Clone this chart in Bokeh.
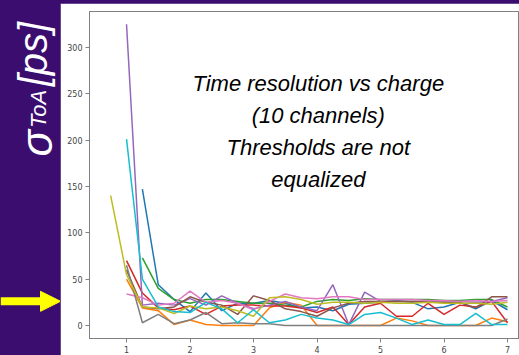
import numpy as np
from math import pi
from bokeh.plotting import figure
from bokeh.layouts import row
from bokeh.models import Range1d, FixedTicker, Label, Arrow, NormalHead
from bokeh.embed import file_html
from bokeh.resources import INLINE

# ---------------- data ----------------
charge = [0.75, 1.0, 1.25, 1.5, 1.75, 2.0, 2.25, 2.5, 2.75, 3.0, 3.25, 3.5, 3.75,
          4.0, 4.25, 4.5, 4.75, 5.0, 5.25, 5.5, 5.75, 6.0, 6.25, 6.5, 6.75, 7.0]

ch0 = [None, None, 147, 44, 28, 15, 35, 16, 24, 24, 27, 24, 19, 20, 16, 23, 24, 25, 27, 25, 18, 20, 25, 18, 27, 17]
ch1 = [None, 50, 19, 16, 1, 6, 1, 0, 0, 0, 19, 25, 22, 0, 0, 0, 0, 0, 8, 5, 0, 0, 0, 0, 8, 4]
ch2 = [None, None, 73, 40, 28, 24, 28, 28, 26, 24, 24, 22, 20, 26, 28, 27, 29, 28, 28, 28, 28, 27, 27, 28, 28, 20]
ch3 = [None, 70, 35, 19, 17, 21, 12, 21, 22, 22, 21, 21, 19, 14, 20, 1, 20, 24, 10, 10, 24, 12, 22, 20, 26, 3]
ch4 = [None, 325, 22, 24, 22, 29, 22, 32, 24, 18, 22, 26, 20, 16, 44, 1, 36, 26, 26, 26, 26, 25, 26, 25, 26, 30]
ch5 = [None, 60, 20, 18, 20, 31, 25, 22, 12, 32, 27, 18, 15, 10, 19, 24, 26, 26, 26, 26, 25, 25, 25, 19, 31, 31]
ch6 = [None, 34, 30, 22, 24, 37, 25, 27, 24, 17, 26, 34, 30, 29, 31, 31, 28, 28, 28, 28, 27, 27, 26, 27, 26, 27]
ch7 = [None, 65, 3, 12, 2, 6, 14, 2, 3, 2, 2, 0, 0, 0, 0, 0, 0, 0, 0, 0, 0, 0, 0, 0, 0, 7]
ch8 = [140, 55, 20, 19, 13, 21, 18, 20, 16, 10, 30, 31, 28, 23, 25, 25, 24, 25, 24, 24, 25, 24, 24, 24, 23, 25]
ch9 = [None, 201, 50, 20, 15, 14, 25, 18, 3, 17, 3, 6, 12, 8, 6, 1, 12, 14, 8, 1, 6, 1, 1, 13, 1, 1]

channels = [ch0, ch1, ch2, ch3, ch4, ch5, ch6, ch7, ch8, ch9]
colors = ["#1f77b4", "#ff7f0e", "#2ca02c", "#d62728", "#9467bd",
          "#8c564b", "#e377c2", "#7f7f7f", "#bcbd22", "#17becf"]

x_ticks = [1, 2, 3, 4, 5, 6, 7]
y_ticks = [0, 50, 100, 150, 200, 250, 300]

title_lines = ["Time resolution vs charge", "(10 channels)", "Thresholds are not", "equalized"]
title_y = [261, 227, 192, 157]

PURPLE = "#3a0d6e"
YELLOW = "#ffff00"
FONT = "Liberation Sans"

# ---------------- left purple strip ----------------
left = figure(width=60, height=355, x_range=Range1d(0, 60), y_range=Range1d(0, 355),
              title=None, toolbar_location=None, output_backend="svg", min_border=0,
              x_axis_location=None, y_axis_location=None,
              background_fill_color=PURPLE, border_fill_color=PURPLE,
              outline_line_color=None)
left.grid.visible = False

for txt, xx, yy, fs in [("σ", 36, 210, "44px"), ("ToA", 38, 247, "22px"), ("[ps]", 32, 306, "40px")]:
    left.add_layout(Label(x=xx, y=yy, text=txt, angle=pi / 2, text_color="white",
                          text_font=FONT, text_font_style="italic", text_font_size=fs,
                          text_align="center", text_baseline="middle"))
left.add_layout(Arrow(end=NormalHead(size=20, fill_color=YELLOW, line_color=YELLOW),
                      x_start=0, y_start=40, x_end=60, y_end=40,
                      line_color=YELLOW, line_width=8))

# ---------------- main plot ----------------
p = figure(width=459, height=352, x_range=Range1d(0.417, 7.189), y_range=Range1d(-14, 338.7),
           title=None, toolbar_location=None, output_backend="svg",
           min_border_left=29, min_border_right=0, min_border_top=8, min_border_bottom=16,
           border_fill_color="white", background_fill_color="white",
           outline_line_color="#808080")
p.margin = (3, 0, 0, 0)
p.grid.visible = False

for ch, c in zip(channels, colors):
    p.line(charge, np.array(ch, dtype=float), line_color=c, line_width=1.5)

p.xaxis.ticker = FixedTicker(ticks=x_ticks)
p.yaxis.ticker = FixedTicker(ticks=y_ticks)
for ax in (p.xaxis[0], p.yaxis[0]):
    ax.axis_line_color = "#808080"
    ax.major_tick_line_color = "#808080"
    ax.major_tick_in = 0
    ax.major_tick_out = 4
    ax.minor_tick_line_color = None
    ax.major_label_text_font = "DejaVu Sans"
    ax.major_label_text_font_size = "8px"
    ax.major_label_text_color = "#444444"
    ax.major_label_standoff = 3

for txt, yy in zip(title_lines, title_y):
    p.add_layout(Label(x=4.02, y=yy, text=txt, text_font=FONT, text_font_style="italic",
                       text_font_size="22px", text_color="black",
                       text_align="center", text_baseline="middle"))

layout = row(left, p, styles={"background-color": PURPLE})

open("out.html", "w").write(file_html(layout, INLINE))
